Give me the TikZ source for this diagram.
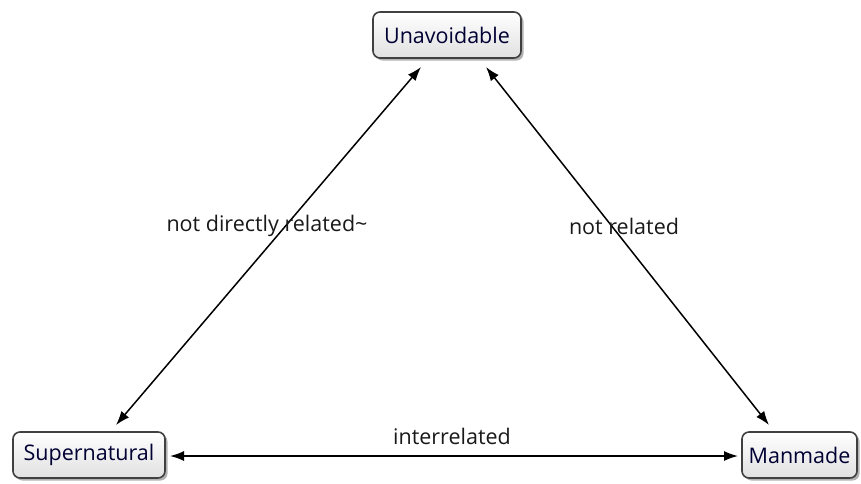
\documentclass[tikz,border=0pt]{standalone}
\usepackage{fontspec}
\setmainfont{Open Sans}
\usetikzlibrary{shadows,arrows.meta}
\begin{document}
\begin{tikzpicture}[x=1pt,y=-1pt,
  concept/.style={draw=black!75, line width=1.6pt, rounded corners=7pt,
    top color=white, bottom color=black!12,
    drop shadow={shadow xshift=2.5pt, shadow yshift=-2.5pt, opacity=0.5, fill=black!60},
    inner sep=0pt, font=\fontsize{21.5}{24}\selectfont, text=black!80!blue},
  link/.style={line width=1.5pt, {Latex[length=14pt,width=10pt]}-{Latex[length=14pt,width=10pt]}},
  linklabel/.style={fill=none, font=\fontsize{21.5}{24}\selectfont, text=black!90}]
\useasboundingbox (0,0) rectangle (861,483);
\node[concept, minimum width=148pt, minimum height=46pt] (u) at (447,35) {Unavoidable};
\node[concept, minimum width=152pt, minimum height=46pt] (s) at (89,455) {Supernatural};
\node[concept, minimum width=115pt, minimum height=46pt] (m) at (799.5,455) {Manmade};
\coordinate (ua) at (421,67);
\coordinate (ub) at (486,67);
\coordinate (sa) at (116,425);
\coordinate (ma) at (769,425);
\coordinate (sb) at (170,456);
\coordinate (mb) at (738,456);
\draw[link] (ua) -- (sa);
\draw[link] (ub) -- (ma);
\draw[link] (sb) -- (mb);
\node[linklabel] (l1) at (267,226) {not directly related\textasciitilde};
\node[linklabel] (l2) at (624,226) {not related};
\node[linklabel] (l3) at (452,436) {interrelated};
\end{tikzpicture}
\end{document}
